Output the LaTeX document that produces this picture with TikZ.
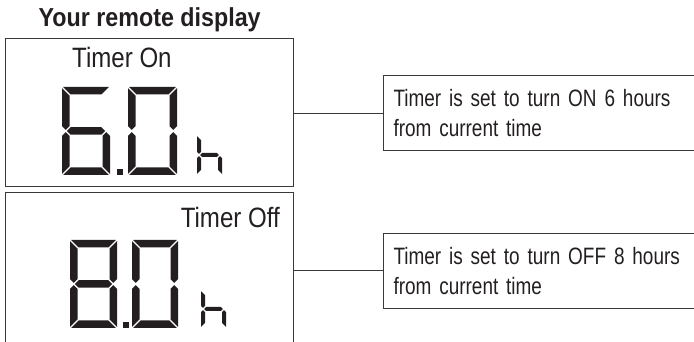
\documentclass[tikz,border=0pt]{standalone}
\usepackage{fontspec}
\setmainfont{Liberation Sans}[FakeStretch=0.86]
\newfontfamily\titlefont{Liberation Sans}[FakeStretch=0.895]
\newfontfamily\callfont{Liberation Sans}[FakeStretch=0.80]
\definecolor{ink}{HTML}{231F20}
\definecolor{edge}{HTML}{3A3A3A}
\newcommand\calloutfont{\callfont\fontsize{23.7}{30}\selectfont}
\newcommand\headfont{\titlefont\bfseries\fontsize{26}{28}\selectfont}
\newcommand\lcdlabelfont{\fontsize{28}{30}\selectfont}
\newcommand\sgG{1.2}
\newcommand\lcdsega{\fill[ink] (\sgG,\sgH) -- (\sgW-\sgG,\sgH) -- (\sgW-\sgG-\sgT,\sgH-\sgT) -- (\sgG+\sgT,\sgH-\sgT) -- cycle;}
\newcommand\lcdsegd{\fill[ink] (\sgG,0) -- (\sgW-\sgG,0) -- (\sgW-\sgG-\sgT,\sgT) -- (\sgG+\sgT,\sgT) -- cycle;}
\newcommand\lcdsegf{\fill[ink] (0,\sgH-\sgG) -- (\sgT,\sgH-\sgG-\sgT) -- (\sgT,\sgM+\sgG+\sgT/2) -- (\sgT/2,\sgM+\sgG) -- (0,\sgM+\sgG+\sgT/2) -- cycle;}
\newcommand\lcdsege{\fill[ink] (0,\sgG) -- (\sgT,\sgG+\sgT) -- (\sgT,\sgM-\sgG-\sgT/2) -- (\sgT/2,\sgM-\sgG) -- (0,\sgM-\sgG-\sgT/2) -- cycle;}
\newcommand\lcdsegb{\fill[ink] (\sgW,\sgH-\sgG) -- (\sgW-\sgT,\sgH-\sgG-\sgT) -- (\sgW-\sgT,\sgM+\sgG+\sgT/2) -- (\sgW-\sgT/2,\sgM+\sgG) -- (\sgW,\sgM+\sgG+\sgT/2) -- cycle;}
\newcommand\lcdsegc{\fill[ink] (\sgW,\sgG) -- (\sgW-\sgT,\sgG+\sgT) -- (\sgW-\sgT,\sgM-\sgG-\sgT/2) -- (\sgW-\sgT/2,\sgM-\sgG) -- (\sgW,\sgM-\sgG-\sgT/2) -- cycle;}
\newcommand\lcdsegg{\fill[ink] (\sgT/2+\sgG,\sgM) -- (\sgT+\sgG,\sgM+\sgT/2) -- (\sgW-\sgT-\sgG,\sgM+\sgT/2) -- (\sgW-\sgT/2-\sgG,\sgM) -- (\sgW-\sgT-\sgG,\sgM-\sgT/2) -- (\sgT+\sgG,\sgM-\sgT/2) -- cycle;}
\newcommand\lcddigit[6]{%
  \begin{scope}[shift={(#1,#2)}]
    \def\sgW{#3}\def\sgH{#4}\def\sgT{#5}\pgfmathsetmacro\sgM{#4/2}
    \foreach \s in {#6}{\csname lcdseg\s\endcsname}
  \end{scope}}
\begin{document}
\begin{tikzpicture}[x=1pt,y=1pt,
  panel/.style={draw=edge, line width=1.3pt, inner sep=0pt, anchor=south west},
  callout/.style={draw=edge, line width=1pt, anchor=west, text width=330pt, align=left,
    inner xsep=10pt, minimum height=75pt, text=ink, font=\calloutfont},
  link/.style={draw=edge, line width=1pt},
  lbl/.style={text=ink, inner sep=0pt}]
\useasboundingbox (0,0) rectangle (694,342);
% title
\node[lbl, anchor=base west, font=\headfont] (title) at (38.5,315) {Your remote display};
% top panel
\node[panel, minimum width=288.5pt, minimum height=148.5pt] (box1) at (4.5,154.5) {};
\node[lbl, anchor=base west, font=\lcdlabelfont] (ton) at (72,274) {Timer On};
\lcddigit{62}{167}{48}{88}{7.5}{a,f,g,e,d,c}
\node[fill=ink, minimum size=6pt, inner sep=0pt, anchor=south west] (dot1) at (117,167) {};
\lcddigit{128}{167}{49}{88}{7.5}{a,b,c,d,e,f}
\lcddigit{197}{167}{25}{40}{4}{f,e,g,c}
% bottom panel (open at the bottom)
\node[panel, minimum width=288pt, minimum height=170pt] (box2) at (5,-21) {};
\node[lbl, anchor=base east, font=\lcdlabelfont] (toff) at (280,114) {Timer Off};
\lcddigit{70}{14}{47}{88}{7.5}{a,b,c,d,e,f,g}
\node[fill=ink, minimum size=6pt, inner sep=0pt, anchor=south west] (dot2) at (123,14) {};
\lcddigit{132}{14}{46}{88}{7.5}{a,b,c,d,e,f}
\lcddigit{201}{14}{25}{38}{4}{f,e,g,c}
% callouts
\node[callout] (call1) at (383,228.5) {Timer is set to turn ON 6 hours\\from current time};
\node[callout] (call2) at (383,71) {Timer is set to turn OFF 8 hours\\from current time};
\draw[link] (call1.west -| box1.east) -- (call1.west);
\draw[link] (call2.west -| box2.east) -- (call2.west);
\end{tikzpicture}
\end{document}
